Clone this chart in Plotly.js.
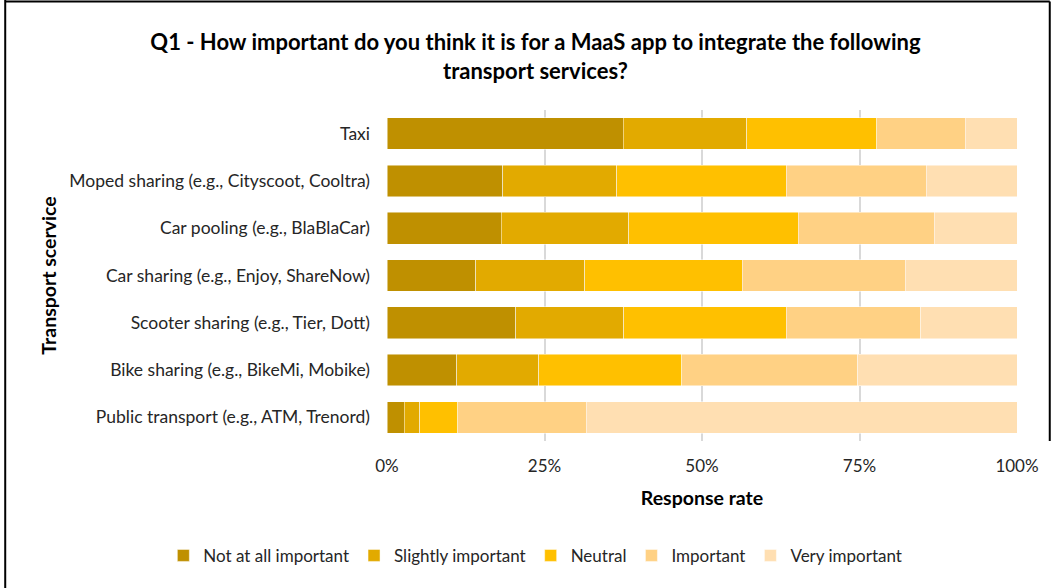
<!DOCTYPE html>
<html>
<head>
<meta charset="utf-8">
<script src="https://cdn.plot.ly/plotly-3.0.1.min.js"></script>
<style>html,body{margin:0;padding:0;background:#fff;}#chart{width:1054px;height:588px;}</style>
</head>
<body>
<div id="chart"></div>
<script>
const categories = [
  "Taxi",
  "Moped sharing (e.g., Cityscoot, Cooltra)",
  "Car pooling (e.g., BlaBlaCar)",
  "Car sharing (e.g., Enjoy, ShareNow)",
  "Scooter sharing (e.g., Tier, Dott)",
  "Bike sharing (e.g., BikeMi, Mobike)",
  "Public transport (e.g., ATM, Trenord)"
];
const seriesNames = ["Not at all important", "Slightly important", "Neutral", "Important", "Very important"];
const notAtAll   = [37.5, 18.4, 18.1, 14.1, 20.4, 11.1, 2.7];
const slightly   = [19.6, 18.1, 20.3, 17.3, 17.2, 13.0, 2.5];
const neutral    = [20.6, 26.9, 26.9, 25.0, 25.8, 22.7, 6.0];
const important  = [14.1, 22.2, 21.6, 25.9, 21.3, 27.9, 20.4];
const veryImp    = [8.2, 14.4, 13.1, 17.7, 15.3, 25.3, 68.4];
const xTickVals  = [0, 25, 50, 75, 100];
const xTickText  = ["0%", "25%", "50%", "75%", "100%"];

const colors = ["#BF9000", "#E2AA00", "#FFC000", "#FFD184", "#FFDFB2"];
const allSeries = [notAtAll, slightly, neutral, important, veryImp];
const FONT = "Lato, 'Open Sans', sans-serif";

const traces = allSeries.map((vals, i) => ({
  type: "bar",
  orientation: "h",
  name: seriesNames[i],
  y: categories,
  x: vals,
  marker: {color: colors[i], line: {color: "rgba(255,255,255,0.6)", width: 0.8}},
  hoverinfo: "x+y+name"
}));

const layout = {
  width: 1054, height: 588,
  paper_bgcolor: "#fff", plot_bgcolor: "#fff",
  barmode: "stack",
  bargap: 0.33,
  margin: {l: 387, r: 37, t: 110, b: 147},
  font: {family: FONT, size: 17, color: "#262626"},
  title: {
    text: "<b>Q1 - How important do you think it is for a MaaS app to integrate the following<br>transport services?</b>",
    font: {family: FONT, size: 22, color: "#000"},
    x: 0.508, xanchor: "center", y: 0.915, yanchor: "top"
  },
  xaxis: {
    range: [0, 100], tickvals: xTickVals, ticktext: xTickText,
    showgrid: true, gridcolor: "#D9D9D9", gridwidth: 2,
    zeroline: false, showline: false, ticks: "",
    automargin: false,
    ticklabelstandoff: 13,
    tickfont: {family: FONT, size: 17, color: "#262626"},
    title: {text: "<b>Response rate</b>", font: {family: FONT, size: 19.5, color: "#000"}, standoff: 16},
    fixedrange: true
  },
  yaxis: {
    type: "category", autorange: "reversed",
    showgrid: false, zeroline: false, showline: false, ticks: "",
    automargin: false,
    ticklabelstandoff: 16,
    tickfont: {family: FONT, size: 17.5, color: "#262626"},
    title: {text: "<b>Transport scervice</b>", font: {family: FONT, size: 19.5, color: "#000"}, standoff: 7},
    fixedrange: true
  },
  legend: {
    orientation: "h", xref: "paper", yref: "paper",
    x: -0.355, xanchor: "left",
    y: -0.347, yanchor: "middle",
    font: {family: FONT, size: 17, color: "#262626"},
    traceorder: "normal", itemwidth: 30
  },
  shapes: [
    {type: "line", xref: "paper", yref: "paper", x0: -0.606, x1: -0.606, y0: 1.34, y1: -0.45, line: {color: "#000", width: 2}},
    {type: "line", xref: "paper", yref: "paper", x0: -0.606, x1: 1.052, y0: 1.328, y1: 1.328, line: {color: "#000", width: 2}},
    {type: "line", xref: "paper", yref: "paper", x0: 1.052, x1: 1.052, y0: 1.328, y1: 0.0, line: {color: "#000", width: 2}}
  ]
};

Plotly.newPlot("chart", traces, layout, {displayModeBar: false, staticPlot: true});
</script>
</body>
</html>
